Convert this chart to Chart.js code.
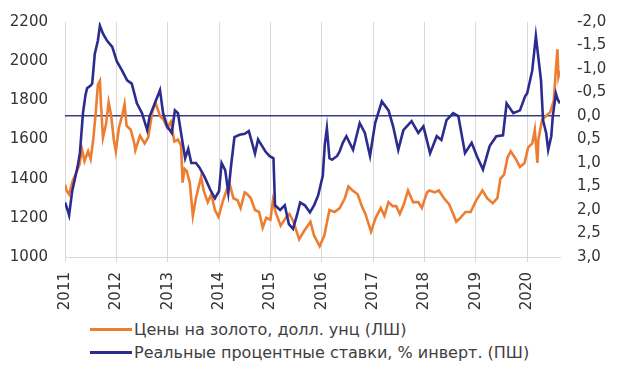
<!DOCTYPE html>
<html>
<head>
<meta charset="utf-8">
<script src="https://cdn.jsdelivr.net/npm/chart.js@4/dist/chart.umd.min.js"></script>
<style>
  body { margin: 0; background: #fff; }
  #wrap { position: relative; width: 620px; height: 366px; }
  #legend { position: absolute; left: 0; top: 318px; font: 16px "DejaVu Sans", sans-serif; color: #404040; }
  .row { display: flex; align-items: center; height: 23px; }
  .swatch { width: 42px; height: 3px; margin-left: 90px; margin-right: 2px; }
</style>
</head>
<body>
<div id="wrap">
  <canvas id="gold_rates" width="620" height="310"></canvas>
  <div id="legend"></div>
</div>
<script>
// gold, USD/oz (left axis)
const goldYears = [2011.00, 2011.03, 2011.08, 2011.15, 2011.22, 2011.28, 2011.33, 2011.38, 2011.45, 2011.50,
  2011.55, 2011.60, 2011.64, 2011.68, 2011.70, 2011.74, 2011.80, 2011.85, 2011.90, 2011.95,
  2011.99, 2012.05, 2012.12, 2012.16, 2012.20, 2012.28, 2012.35, 2012.37, 2012.46, 2012.55,
  2012.62, 2012.70, 2012.76, 2012.85, 2012.92, 2012.99, 2013.06, 2013.13, 2013.20, 2013.26,
  2013.29, 2013.33, 2013.37, 2013.43, 2013.49, 2013.55, 2013.65, 2013.70, 2013.78, 2013.85,
  2013.92, 2013.99, 2014.08, 2014.20, 2014.28, 2014.36, 2014.42, 2014.50, 2014.55, 2014.62,
  2014.70, 2014.78, 2014.85, 2014.92, 2015.00, 2015.05, 2015.10, 2015.20, 2015.30, 2015.37,
  2015.45, 2015.56, 2015.65, 2015.78, 2015.85, 2015.96, 2016.05, 2016.15, 2016.25, 2016.35,
  2016.45, 2016.52, 2016.60, 2016.70, 2016.78, 2016.85, 2016.96, 2017.05, 2017.15, 2017.22,
  2017.30, 2017.38, 2017.45, 2017.52, 2017.60, 2017.68, 2017.78, 2017.88, 2017.95, 2018.05,
  2018.10, 2018.20, 2018.28, 2018.38, 2018.48, 2018.56, 2018.62, 2018.70, 2018.80, 2018.90,
  2019.00, 2019.13, 2019.22, 2019.33, 2019.42, 2019.48, 2019.55, 2019.62, 2019.68, 2019.78,
  2019.86, 2019.95, 2020.02, 2020.10, 2020.15, 2020.20, 2020.22, 2020.29, 2020.37, 2020.45,
  2020.52, 2020.56, 2020.59, 2020.61, 2020.64];
const goldPrice = [1370, 1340, 1320, 1390, 1430, 1470, 1550, 1490, 1540, 1500,
  1600, 1740, 1880, 1900, 1780, 1610, 1680, 1790, 1720, 1600,
  1540, 1660, 1730, 1780, 1670, 1650, 1580, 1545, 1620, 1580,
  1610, 1740, 1790, 1720, 1700, 1660, 1690, 1590, 1600, 1570,
  1380, 1450, 1440, 1380, 1210, 1300, 1410, 1340, 1280, 1320,
  1240, 1205, 1290, 1380, 1300, 1290, 1250, 1330, 1320, 1300,
  1240, 1230, 1150, 1200, 1190, 1290, 1230, 1160, 1200, 1220,
  1180, 1090, 1130, 1180, 1110, 1055, 1110, 1240, 1230, 1250,
  1300, 1360, 1340, 1320, 1260, 1220, 1130, 1200, 1250, 1210,
  1280, 1260, 1260, 1220, 1270, 1340, 1280, 1280, 1250, 1330,
  1340, 1330, 1340, 1300, 1270, 1220, 1180, 1200, 1230, 1230,
  1285, 1340, 1300, 1275, 1300, 1400, 1420, 1510, 1540, 1500,
  1460, 1480, 1560, 1580, 1650, 1480, 1600, 1700, 1720, 1740,
  1800, 1960, 2060, 1920, 1950];

// real interest rates, % (right axis, inverted)
const rateYears = [2011.00, 2011.05, 2011.08, 2011.14, 2011.19, 2011.25, 2011.29, 2011.35, 2011.40, 2011.43,
  2011.50, 2011.53, 2011.58, 2011.64, 2011.68, 2011.74, 2011.82, 2011.92, 2012.01, 2012.11,
  2012.21, 2012.30, 2012.40, 2012.50, 2012.60, 2012.65, 2012.75, 2012.85, 2012.91, 2012.99,
  2013.08, 2013.14, 2013.20, 2013.28, 2013.34, 2013.40, 2013.46, 2013.55, 2013.62, 2013.72,
  2013.83, 2013.92, 2014.00, 2014.05, 2014.12, 2014.18, 2014.24, 2014.30, 2014.40, 2014.50,
  2014.58, 2014.65, 2014.70, 2014.76, 2014.84, 2014.90, 2014.98, 2015.06, 2015.09, 2015.19,
  2015.28, 2015.36, 2015.44, 2015.52, 2015.58, 2015.67, 2015.77, 2015.85, 2015.93, 2016.02,
  2016.06, 2016.10, 2016.15, 2016.20, 2016.30, 2016.35, 2016.41, 2016.48, 2016.61, 2016.74,
  2016.84, 2016.94, 2017.04, 2017.17, 2017.30, 2017.39, 2017.49, 2017.59, 2017.75, 2017.88,
  2017.98, 2018.11, 2018.24, 2018.33, 2018.43, 2018.56, 2018.66, 2018.79, 2018.92, 2019.02,
  2019.14, 2019.27, 2019.40, 2019.53, 2019.60, 2019.73, 2019.86, 2019.96, 2020.00, 2020.10,
  2020.17, 2020.21, 2020.27, 2020.31, 2020.37, 2020.41, 2020.47, 2020.50, 2020.56, 2020.60,
  2020.64];
const rateValue = [1.84, 2.0, 2.11, 1.6, 1.35, 1.05, 0.79, -0.06, -0.45, -0.59,
  -0.65, -0.69, -1.32, -1.6, -1.92, -1.75, -1.6, -1.47, -1.16, -0.97,
  -0.76, -0.69, -0.27, -0.06, 0.3, 0.0, -0.27, -0.55, -0.06, 0.22,
  0.36, -0.12, -0.06, 0.5, 0.9, 0.7, 1.0, 1.0, 1.1, 1.3,
  1.57, 1.75, 1.6, 1.0, 1.15, 1.63, 1.0, 0.45, 0.4, 0.38,
  0.32, 0.6, 0.8, 0.5, 0.64, 0.75, 0.85, 0.9, 1.9, 2.0,
  1.9, 2.3, 2.4, 2.1, 1.84, 1.9, 2.05, 1.9, 1.69, 1.27,
  0.6, 0.26, 0.9, 0.93, 0.85, 0.75, 0.57, 0.43, 0.72, 0.15,
  0.36, 0.85, 0.15, -0.31, -0.12, 0.22, 0.72, 0.3, 0.11, 0.36,
  0.22, 0.79, 0.43, 0.51, 0.09, -0.06, 0.0, 0.79, 0.57, 0.85,
  1.14, 0.64, 0.43, 0.41, -0.27, -0.06, -0.12, -0.42, -0.48, -0.97,
  -1.7, -1.32, -0.76, 0.09, 0.36, 0.72, 0.43, 0.0, -0.48, -0.34,
  -0.27];

const yearTicks = [2011, 2012, 2013, 2014, 2015, 2016, 2017, 2018, 2019, 2020];
const seriesNames = ["Цены на золото, долл. унц (ЛШ)", "Реальные процентные ставки, % инверт. (ПШ)"];
const seriesColors = ["#ED7D31", "#2B2C8E"];

const tickFont = { family: "DejaVu Sans", size: 15 };

// keep the plot box fixed: no extra room for half-labels at the ends
function fixWidth(w) {
  return (s) => { s.width = w; s.paddingTop = 0; s.paddingBottom = 0; };
}

const ctx = document.getElementById("gold_rates");
const chart = new Chart(ctx, {
  type: "line",
  data: {
    datasets: [
      {
        label: seriesNames[0],
        data: goldYears.map((x, i) => ({ x: x, y: goldPrice[i] })),
        borderColor: seriesColors[0],
        borderWidth: 2.6,
        pointRadius: 0,
        yAxisID: "y",
        order: 2,
      },
      {
        label: seriesNames[1],
        data: rateYears.map((x, i) => ({ x: x, y: rateValue[i] })),
        borderColor: seriesColors[1],
        borderWidth: 2.6,
        pointRadius: 0,
        yAxisID: "y2",
        order: 1,
      },
    ],
  },
  options: {
    responsive: false,
    animation: false,
    layout: { padding: { top: 22, left: 0, right: 0, bottom: 0 } },
    plugins: {
      legend: { display: false },
      tooltip: { enabled: false },
    },
    scales: {
      x: {
        type: "linear",
        min: 2011,
        max: 2020.64,
        afterBuildTicks: (s) => { s.ticks = yearTicks.map(v => ({ value: v })); },
        afterFit: (s) => { s.height = 53; s.paddingLeft = 0; s.paddingRight = 0; },
        ticks: {
          autoSkip: false,
          minRotation: 90,
          maxRotation: 90,
          padding: 10,
          color: "#333",
          font: tickFont,
          callback: (v) => String(v),
        },
        grid: { color: "#D9D9D9", lineWidth: 1, tickLength: 5 },
        border: { color: "#D9D9D9" },
      },
      y: {
        position: "left",
        min: 1000,
        max: 2200,
        afterFit: fixWidth(65),
        ticks: { stepSize: 200, padding: 17, color: "#333", font: tickFont, callback: (v) => String(v) },
        grid: { display: false, drawTicks: false },
        border: { display: false },
      },
      y2: {
        position: "right",
        reverse: true,
        min: -2,
        max: 3,
        afterFit: fixWidth(60),
        ticks: {
          stepSize: 0.5,
          padding: 17,
          color: "#333",
          font: tickFont,
          callback: (v) => v.toFixed(1).replace(".", ","),
        },
        grid: {
          drawTicks: false,
          lineWidth: 1.5,
          color: (c) => (c.tick && c.tick.value === 0 ? "#3A3A8A" : "rgba(0,0,0,0)"),
        },
        border: { display: false },
      },
    },
  },
});

// legend below the chart, one entry per row
const legend = document.getElementById("legend");
seriesNames.forEach((name, i) => {
  const row = document.createElement("div");
  row.className = "row";
  const sw = document.createElement("span");
  sw.className = "swatch";
  sw.style.background = seriesColors[i];
  const txt = document.createElement("span");
  txt.textContent = name;
  row.appendChild(sw);
  row.appendChild(txt);
  legend.appendChild(row);
});
</script>
</body>
</html>
